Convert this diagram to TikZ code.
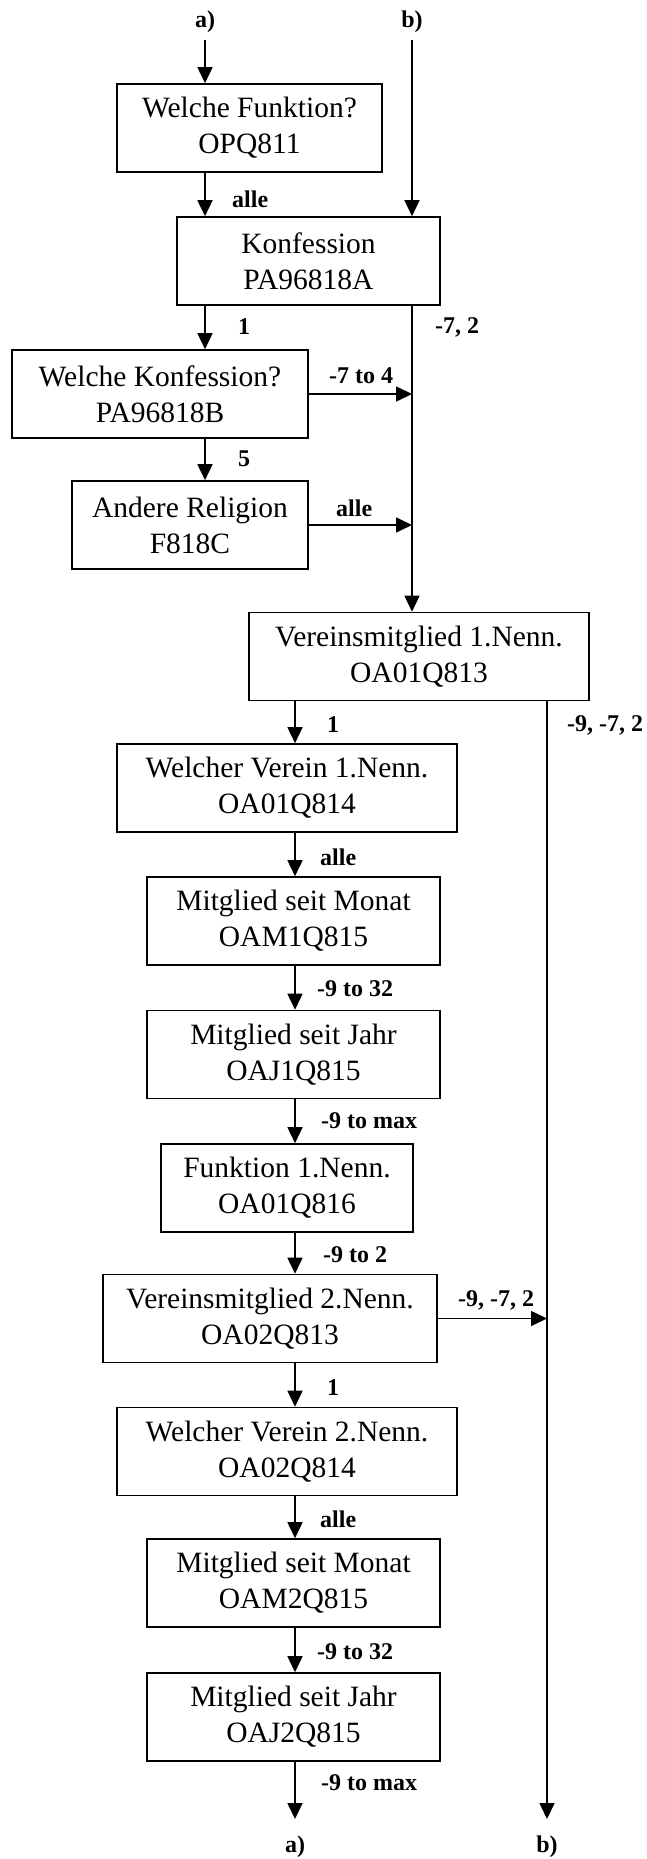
\documentclass[tikz,border=0pt]{standalone}
\usepackage{fontspec}
\setmainfont{Liberation Serif}
\usetikzlibrary{arrows.meta}
\begin{document}
\begin{tikzpicture}[x=1pt,y=-1pt,
  box/.style={draw,line width=1.6pt,minimum height=88pt,inner sep=0pt,align=center,
    font=\fontsize{29.5}{36}\selectfont},
  arr/.style={line width=1.6pt,-{Triangle[length=16pt,width=15pt]}},
  lab/.style={anchor=west,inner sep=0pt,font=\fontsize{24}{28}\selectfont\bfseries},
  ends/.style={inner sep=0pt,font=\fontsize{24}{28}\selectfont\bfseries}]
\useasboundingbox (0,0) rectangle (646,1859);
% column coordinates
\coordinate (aX) at (205,0);
\coordinate (bX) at (412,0);
\coordinate (cX) at (295,0);
\coordinate (rX) at (547,0);
\coordinate (aTop) at (205,40);
\coordinate (bTop) at (412,40);
\coordinate (aEnd) at (295,1819);
\coordinate (bEnd) at (547,1819);
% boxes
\node[box,minimum width=265pt] (n1) at (249.5,128) {Welche Funktion?\\OPQ811};
\node[box,minimum width=263pt] (n2) at (308.5,261) {Konfession\\PA96818A};
\node[box,minimum width=296pt] (n3) at (160,394) {Welche Konfession?\\PA96818B};
\node[box,minimum width=236pt] (n4) at (190,525) {Andere Religion\\F818C};
\node[box,minimum width=340pt] (n5) at (419,656.5) {Vereinsmitglied 1.Nenn.\\OA01Q813};
\node[box,minimum width=340pt] (n6) at (287,788) {Welcher Verein 1.Nenn.\\OA01Q814};
\node[box,minimum width=293pt] (n7) at (293.5,921) {Mitglied seit Monat\\OAM1Q815};
\node[box,minimum width=293pt] (n8) at (293.5,1054.5) {Mitglied seit Jahr\\OAJ1Q815};
\node[box,minimum width=252pt] (n9) at (287,1188) {Funktion 1.Nenn.\\OA01Q816};
\node[box,minimum width=334pt] (n10) at (270,1318.5) {Vereinsmitglied 2.Nenn.\\OA02Q813};
\node[box,minimum width=340pt] (n11) at (287,1451.5) {Welcher Verein 2.Nenn.\\OA02Q814};
\node[box,minimum width=293pt] (n12) at (293.5,1583) {Mitglied seit Monat\\OAM2Q815};
\node[box,minimum width=293pt] (n13) at (293.5,1717) {Mitglied seit Jahr\\OAJ2Q815};
% entry / exit labels
\node[ends] (ta) at (205,22) {a)};
\node[ends] (tb) at (412,22) {b)};
\node[ends] (ba) at (295,1847) {a)};
\node[ends] (bb) at (547,1847) {b)};
% connectors
\draw[arr] (aTop) -- (n1.north -| aX);
\draw[arr] (bTop) -- (n2.north -| bX);
\draw[arr] (n1.south -| aX) -- (n2.north -| aX);
\draw[arr] (n2.south -| aX) -- (n3.north -| aX);
\draw[arr] (n2.south -| bX) -- (n5.north -| bX);
\draw[arr] (n3.east) -- (n3.east -| bX);
\draw[arr] (n3.south -| aX) -- (n4.north -| aX);
\draw[arr] (n4.east) -- (n4.east -| bX);
\draw[arr] (n5.south -| cX) -- (n6.north -| cX);
\draw[arr] (n5.south -| rX) -- (bEnd);
\draw[arr] (n6.south -| cX) -- (n7.north -| cX);
\draw[arr] (n7.south -| cX) -- (n8.north -| cX);
\draw[arr] (n8.south -| cX) -- (n9.north -| cX);
\draw[arr] (n9.south -| cX) -- (n10.north -| cX);
\draw[arr] (n10.east) -- (n10.east -| rX);
\draw[arr] (n10.south -| cX) -- (n11.north -| cX);
\draw[arr] (n11.south -| cX) -- (n12.north -| cX);
\draw[arr] (n12.south -| cX) -- (n13.north -| cX);
\draw[arr] (n13.south -| cX) -- (aEnd);
% connector labels
\node[lab] (l1) at (232,199) {alle};
\node[lab] (l2) at (238,327) {1};
\node[lab] (l3) at (435,327) {-7, 2};
\node[lab] (l4) at (329,376) {-7 to 4};
\node[lab] (l5) at (238,459) {5};
\node[lab] (l6) at (336,508) {alle};
\node[lab] (l7) at (327,725) {1};
\node[lab] (l8) at (567,725) {-9, -7, 2};
\node[lab] (l9) at (320,857) {alle};
\node[lab] (l10) at (317,989) {-9 to 32};
\node[lab] (l11) at (321,1121) {-9 to max};
\node[lab] (l12) at (323,1255) {-9 to 2};
\node[lab] (l13) at (458,1300) {-9, -7, 2};
\node[lab] (l14) at (327,1388) {1};
\node[lab] (l15) at (320,1519) {alle};
\node[lab] (l16) at (317,1652) {-9 to 32};
\node[lab] (l17) at (321,1783) {-9 to max};
\end{tikzpicture}
\end{document}
